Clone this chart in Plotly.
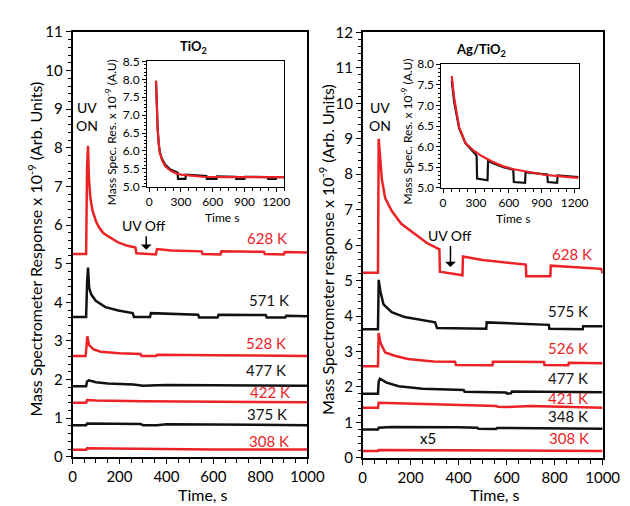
import plotly.graph_objects as go

W, H = 630, 506
def px(x): return x / W
def py(y): return 1 - y / H

RED = "#ec2227"
BLK = "#111111"
FONT = "Lato"

# ---------------- Left panel (TiO2) ----------------
L628_t = [0, 58, 62, 66, 70, 76, 85, 100, 112, 130, 154, 195, 230, 268, 272, 355, 360, 420, 550, 554, 630, 634, 815, 819, 900, 904, 1000]
L628_v = [5.25, 5.25, 7.5, 8.05, 7.2, 6.7, 6.38, 6.1, 5.95, 5.8, 5.7, 5.55, 5.47, 5.42, 5.27, 5.24, 5.38, 5.34, 5.32, 5.25, 5.24, 5.32, 5.31, 5.25, 5.24, 5.3, 5.29]
L571_t = [0, 58, 62, 66, 71, 80, 99, 140, 195, 256, 262, 330, 334, 450, 535, 539, 618, 622, 823, 827, 906, 910, 1000]
L571_v = [3.62, 3.62, 4.5, 4.9, 4.37, 4.2, 4.04, 3.875, 3.79, 3.72, 3.62, 3.62, 3.72, 3.7, 3.68, 3.61, 3.61, 3.68, 3.67, 3.61, 3.61, 3.65, 3.64]
L528_t = [0, 56, 60, 63, 70, 90, 120, 200, 290, 294, 356, 360, 600, 700, 1000]
L528_v = [2.61, 2.61, 2.9, 3.12, 2.9, 2.78, 2.72, 2.68, 2.66, 2.61, 2.61, 2.64, 2.63, 2.62, 2.61]
L477_t = [0, 58, 62, 70, 100, 150, 260, 300, 360, 400, 600, 1000]
L477_v = [1.83, 1.83, 1.95, 1.98, 1.93, 1.9, 1.87, 1.84, 1.85, 1.86, 1.85, 1.84]
L422_t = [0, 58, 62, 100, 300, 600, 1000]
L422_v = [1.40, 1.40, 1.47, 1.46, 1.44, 1.42, 1.41]
L375_t = [0, 58, 62, 150, 290, 300, 360, 400, 600, 1000]
L375_v = [0.82, 0.82, 0.86, 0.86, 0.85, 0.82, 0.82, 0.84, 0.83, 0.82]
L308_t = [0, 58, 62, 200, 300, 600, 1000]
L308_v = [0.18, 0.18, 0.22, 0.21, 0.2, 0.19, 0.19]

# ---------------- Right panel (Ag/TiO2) ----------------
R628_t = [0, 64, 67, 74, 80, 94, 121, 161, 215, 268, 320, 322, 416, 418, 500, 600, 680, 682, 782, 784, 900, 995, 1000]
R628_v = [5.22, 5.22, 9.0, 8.4, 7.87, 7.33, 6.97, 6.6, 6.33, 6.06, 5.88, 5.25, 5.15, 5.68, 5.58, 5.5, 5.45, 5.12, 5.12, 5.42, 5.38, 5.33, 5.2]
R575_t = [0, 64, 67, 74, 87, 121, 175, 242, 302, 310, 515, 517, 776, 778, 917, 919, 1000]
R575_v = [3.63, 3.63, 5.02, 4.7, 4.33, 4.11, 3.97, 3.88, 3.82, 3.66, 3.64, 3.82, 3.75, 3.64, 3.63, 3.71, 3.71]
R526_t = [0, 64, 67, 74, 94, 134, 188, 295, 385, 389, 541, 543, 756, 758, 857, 859, 1000]
R526_v = [2.58, 2.58, 3.52, 3.25, 2.97, 2.88, 2.79, 2.72, 2.71, 2.62, 2.61, 2.71, 2.70, 2.62, 2.61, 2.68, 2.67]
R477_t = [0, 64, 67, 72, 100, 150, 250, 400, 421, 425, 598, 602, 618, 622, 1000]
R477_v = [1.81, 1.81, 2.15, 2.23, 2.12, 2.02, 1.95, 1.91, 1.91, 1.86, 1.84, 1.81, 1.82, 1.87, 1.85]
R421_t = [0, 64, 67, 200, 400, 558, 562, 600, 700, 900, 1000]
R421_v = [1.41, 1.41, 1.55, 1.53, 1.48, 1.46, 1.44, 1.43, 1.46, 1.44, 1.41]
R348_t = [0, 64, 67, 120, 400, 478, 482, 556, 560, 700, 1000]
R348_v = [0.80, 0.80, 0.85, 0.87, 0.86, 0.85, 0.82, 0.81, 0.84, 0.84, 0.82]
R308_t = [0, 64, 67, 300, 500, 800, 1000]
R308_v = [0.19, 0.19, 0.22, 0.22, 0.2, 0.2, 0.19]

# ---------------- Insets ----------------
IL_blk_t = [64, 70, 80, 90, 100, 120, 150, 200, 268, 272, 342, 346, 540, 544, 636, 640, 818, 822, 900, 904, 1120, 1124, 1196, 1200, 1275]
IL_blk_v = [7.96, 7.2, 6.6, 6.2, 5.97, 5.78, 5.62, 5.48, 5.4, 5.22, 5.22, 5.34, 5.3, 5.22, 5.22, 5.29, 5.28, 5.22, 5.22, 5.28, 5.27, 5.22, 5.22, 5.27, 5.27]
IL_red_t = [64, 70, 80, 90, 100, 120, 150, 200, 250, 300, 400, 500, 700, 1000, 1275]
IL_red_v = [7.96, 7.2, 6.6, 6.2, 5.95, 5.75, 5.58, 5.45, 5.38, 5.34, 5.3, 5.28, 5.27, 5.27, 5.27]

IR_blk_t = [79, 100, 146, 205, 300, 306, 310, 405, 410, 450, 550, 640, 645, 748, 752, 850, 950, 955, 1040, 1045, 1150, 1235]
IR_blk_v = [7.6, 7.1, 6.45, 6.08, 5.8, 5.76, 5.22, 5.18, 5.65, 5.6, 5.5, 5.44, 5.14, 5.12, 5.38, 5.35, 5.32, 5.14, 5.12, 5.3, 5.28, 5.26]
IR_red_t = [79, 100, 146, 205, 280, 352, 450, 550, 645, 800, 939, 1100, 1235]
IR_red_v = [7.72, 7.2, 6.47, 6.08, 5.9, 5.77, 5.63, 5.52, 5.45, 5.37, 5.31, 5.27, 5.24]

# label lists
L_labels = ["628 K", "571 K", "528 K", "477 K", "422 K", "375 K", "308 K"]
L_lab_t = [830, 838, 826, 822, 840, 829, 835]
L_lab_v = [5.67, 4.05, 2.95, 2.25, 1.67, 1.12, 0.42]
R_labels = ["628 K", "575 K", "526 K", "477 K", "421 K", "348 K", "308 K"]
R_lab_t = [872, 857, 857, 857, 857, 857, 860]
R_lab_v = [5.74, 4.15, 3.11, 2.26, 1.69, 1.19, 0.57]
lab_colors = [RED, BLK, RED, BLK, RED, BLK, RED]

fig = go.Figure()

def add(t, v, color, xa, ya, w=2.5):
    fig.add_trace(go.Scatter(x=t, y=v, mode="lines", line=dict(color=color, width=w),
                             xaxis=xa, yaxis=ya, showlegend=False, hoverinfo="skip"))

left = [(L628_t, L628_v, RED), (L571_t, L571_v, BLK), (L528_t, L528_v, RED), (L477_t, L477_v, BLK),
        (L422_t, L422_v, RED), (L375_t, L375_v, BLK), (L308_t, L308_v, RED)]
right = [(R628_t, R628_v, RED), (R575_t, R575_v, BLK), (R526_t, R526_v, RED), (R477_t, R477_v, BLK),
         (R421_t, R421_v, RED), (R348_t, R348_v, BLK), (R308_t, R308_v, RED)]
for t, v, c in left:
    add(t, v, c, "x", "y")
for t, v, c in right:
    add(t, v, c, "x2", "y2")
add(IL_blk_t, IL_blk_v, BLK, "x3", "y3", 2.2)
add(IL_red_t, IL_red_v, RED, "x3", "y3", 2.2)
add(IR_blk_t, IR_blk_v, BLK, "x4", "y4", 2.2)
add(IR_red_t, IR_red_v, RED, "x4", "y4", 2.2)

tickfont = dict(family=FONT, size=15, color="black")
insfont = dict(family=FONT, size=12, color="black")

def main_x(dom, anchor):
    return dict(domain=dom, anchor=anchor, range=[0, 1000], dtick=200, tick0=0,
                showgrid=False, zeroline=False, showline=True, linecolor="black", linewidth=1.5,
                mirror=True, ticks="outside", ticklen=5, tickcolor="black", tickfont=tickfont,
                minor=dict(dtick=50, ticks="outside", ticklen=4, tickcolor="black"))

def main_y(dom, anchor, rng):
    return dict(domain=dom, anchor=anchor, range=rng, dtick=1, tick0=0,
                showgrid=False, zeroline=False, showline=True, linecolor="black", linewidth=1.5,
                mirror=True, ticks="outside", ticklen=5, tickcolor="black", tickfont=tickfont,
                minor=dict(dtick=0.2, ticks="outside", ticklen=3, tickcolor="black"))

def ins_x(dom, anchor, rng):
    return dict(domain=dom, anchor=anchor, range=rng, tickvals=[0, 300, 600, 900, 1200],
                showgrid=False, zeroline=False, showline=True, linecolor="black", linewidth=1.2,
                mirror=True, ticks="outside", ticklen=4, tickcolor="black", tickfont=insfont,
                minor=dict(dtick=75, ticks="outside", ticklen=3, tickcolor="black"))

def ins_y(dom, anchor, rng):
    return dict(domain=dom, anchor=anchor, range=rng, dtick=0.5, tick0=5, tickformat=".1f",
                showgrid=False, zeroline=False, showline=True, linecolor="black", linewidth=1.2,
                mirror=True, ticks="outside", ticklen=4, tickcolor="black", tickfont=insfont,
                minor=dict(dtick=0.1, ticks="outside", ticklen=2, tickcolor="black"))

fig.update_layout(
    width=W, height=H, margin=dict(l=0, r=0, t=0, b=0),
    paper_bgcolor="white", plot_bgcolor="white",
    font=dict(family=FONT, color="black"),
    xaxis=main_x([px(62.7), px(306)], "y"),
    yaxis=main_y([py(455), py(14.5)], "x", [0, 11]),
    xaxis2=main_x([px(363.3), px(612)], "y2"),
    yaxis2=main_y([py(456), py(15)], "x2", [0, 12]),
    xaxis3=ins_x([px(140), px(282)], "y3", [-20, 1275]),
    yaxis3=ins_y([py(175), py(45)], "x3", [5.0, 8.5]),
    xaxis4=ins_x([px(445), px(587)], "y4", [-15, 1235]),
    yaxis4=ins_y([py(176), py(48)], "x4", [5.0, 8.0]),
)

ann = []
def pa(text, x, y, size=15, angle=0, color="black"):
    ann.append(dict(text=text, x=px(x), y=py(y), xref="paper", yref="paper", showarrow=False,
                    textangle=angle, font=dict(family=FONT, size=size, color=color),
                    xanchor="center", yanchor="middle"))

# axis titles
pa("Mass Spectrometer Response x 10<sup>-9</sup> (Arb. Units)", 24, 240, 16, -90)
pa("Mass Spectrometer response x 10<sup>-9</sup> (Arb. Units)", 326, 240, 16, -90)
pa("Time, s", 198, 494, 16)
pa("Time, s", 500, 494, 16)
pa("Mass Spec. Res. x 10<sup>-9</sup> (A.U)", 102, 118, 12, -90)
pa("Mass Spec. Res. x 10<sup>-9</sup> (A.U)", 409, 118, 12, -90)
pa("Time s", 218, 207, 12)
pa("Time s", 519, 208, 12)
pa("<b>TiO<sub>2</sub></b>", 188, 30, 13)
pa("<b>Ag/TiO<sub>2</sub></b>", 486, 33, 13)

def da(text, t, v, xa, ya, color="black", size=15):
    ann.append(dict(text=text, x=t, y=v, xref=xa, yref=ya, showarrow=False,
                    font=dict(family=FONT, size=size, color=color), xanchor="center", yanchor="middle"))

for s, t, v, c in zip(L_labels, L_lab_t, L_lab_v, lab_colors):
    da(s, t, v, "x", "y", c)
for s, t, v, c in zip(R_labels, R_lab_t, R_lab_v, lab_colors):
    da(s, t, v, "x2", "y2", c)
da("x5", 273, 0.57, "x2", "y2")
da("UV<br>ON", 63, 8.8, "x", "y", size=14)
da("UV<br>ON", 71, 9.62, "x2", "y2", size=14)
da("UV Off", 304, 6.0, "x", "y", size=14)
da("UV Off", 362, 6.26, "x2", "y2", size=14)

# arrows
ann.append(dict(x=314, y=5.36, ax=314, ay=5.75, xref="x", yref="y", axref="x", ayref="y",
                text="", showarrow=True, arrowhead=1, arrowsize=1.2, arrowwidth=1.5, arrowcolor="black"))
ann.append(dict(x=366, y=5.38, ax=366, ay=6.02, xref="x2", yref="y2", axref="x2", ayref="y2",
                text="", showarrow=True, arrowhead=1, arrowsize=1.2, arrowwidth=1.5, arrowcolor="black"))

fig.update_layout(annotations=ann)
fig.write_html("out.html")
